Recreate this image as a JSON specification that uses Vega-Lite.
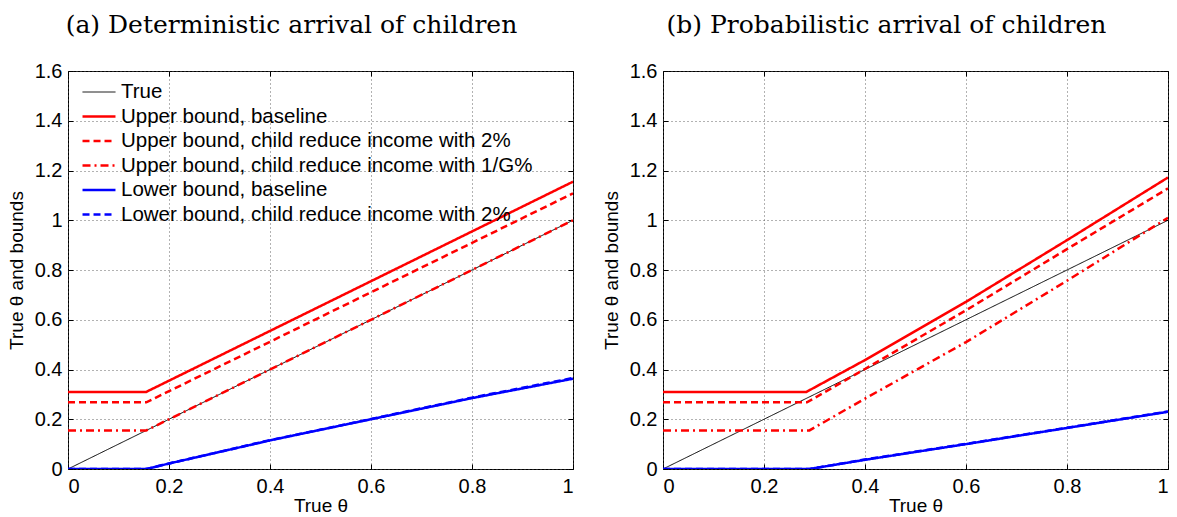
{
  "$schema": "https://vega.github.io/schema/vega-lite/v6.json",
  "padding": {"left": 6, "top": 12, "right": 0, "bottom": 0},
  "background": "white",
  "spacing": 24,
  "config": {
    "view": {"stroke": "black", "strokeWidth": 1},
    "axis": {
      "domain": false,
      "grid": true,
      "gridColor": "#555",
      "gridDash": [1, 3],
      "gridWidth": 1,
      "gridOpacity": 0.9,
      "tickColor": "black",
      "tickSize": -5,
      "labelFont": "Liberation Sans",
      "labelFontSize": 20,
      "labelColor": "black",
      "titleFont": "Liberation Sans",
      "titleFontSize": 19,
      "titleFontWeight": "normal",
      "titleColor": "black"
    },
    "title": {"font": "DejaVu Serif", "fontSize": 25, "fontWeight": "normal", "color": "black", "anchor": "middle", "frame": "bounds", "offset": 23},
    "legend": {"labelFont": "Liberation Sans", "labelFontSize": 20.5, "labelColor": "black", "symbolType": "M-1.57,0H1.57", "symbolSize": 441, "rowPadding": 1.5, "padding": 0, "labelOffset": 10, "labelLimit": 700}
  },
  "datasets": {
    "a": [
      {"series": "True", "x": 0, "y": 0},
      {"series": "True", "x": 1, "y": 1},
      {"series": "Upper bound, baseline", "x": 0, "y": 0.31},
      {"series": "Upper bound, baseline", "x": 0.155, "y": 0.31},
      {"series": "Upper bound, baseline", "x": 1, "y": 1.155},
      {"series": "Upper bound, child reduce income with 2%", "x": 0, "y": 0.268},
      {"series": "Upper bound, child reduce income with 2%", "x": 0.155, "y": 0.268},
      {"series": "Upper bound, child reduce income with 2%", "x": 1, "y": 1.108},
      {"series": "Upper bound, child reduce income with 1/G%", "x": 0, "y": 0.155},
      {"series": "Upper bound, child reduce income with 1/G%", "x": 0.155, "y": 0.155},
      {"series": "Upper bound, child reduce income with 1/G%", "x": 1, "y": 1.0},
      {"series": "Lower bound, baseline", "x": 0, "y": 0},
      {"series": "Lower bound, baseline", "x": 0.155, "y": 0},
      {"series": "Lower bound, baseline", "x": 0.2, "y": 0.022},
      {"series": "Lower bound, baseline", "x": 0.4, "y": 0.115},
      {"series": "Lower bound, baseline", "x": 0.6, "y": 0.2},
      {"series": "Lower bound, baseline", "x": 0.8, "y": 0.285},
      {"series": "Lower bound, baseline", "x": 1, "y": 0.363},
      {"series": "Lower bound, child reduce income with 2%", "x": 0, "y": 0},
      {"series": "Lower bound, child reduce income with 2%", "x": 0.155, "y": 0},
      {"series": "Lower bound, child reduce income with 2%", "x": 0.2, "y": 0.022},
      {"series": "Lower bound, child reduce income with 2%", "x": 0.4, "y": 0.116},
      {"series": "Lower bound, child reduce income with 2%", "x": 0.6, "y": 0.201},
      {"series": "Lower bound, child reduce income with 2%", "x": 0.8, "y": 0.287},
      {"series": "Lower bound, child reduce income with 2%", "x": 1, "y": 0.366}
    ],
    "b": [
      {"series": "True", "x": 0, "y": 0},
      {"series": "True", "x": 1, "y": 1},
      {"series": "Upper bound, baseline", "x": 0, "y": 0.31},
      {"series": "Upper bound, baseline", "x": 0.284, "y": 0.31},
      {"series": "Upper bound, baseline", "x": 0.4, "y": 0.438},
      {"series": "Upper bound, baseline", "x": 0.6, "y": 0.672},
      {"series": "Upper bound, baseline", "x": 0.8, "y": 0.92},
      {"series": "Upper bound, baseline", "x": 1, "y": 1.172},
      {"series": "Upper bound, child reduce income with 2%", "x": 0, "y": 0.268},
      {"series": "Upper bound, child reduce income with 2%", "x": 0.285, "y": 0.268},
      {"series": "Upper bound, child reduce income with 2%", "x": 0.4, "y": 0.402},
      {"series": "Upper bound, child reduce income with 2%", "x": 0.6, "y": 0.638},
      {"series": "Upper bound, child reduce income with 2%", "x": 0.8, "y": 0.884},
      {"series": "Upper bound, child reduce income with 2%", "x": 1, "y": 1.128},
      {"series": "Upper bound, child reduce income with 1/G%", "x": 0, "y": 0.155},
      {"series": "Upper bound, child reduce income with 1/G%", "x": 0.29, "y": 0.155},
      {"series": "Upper bound, child reduce income with 1/G%", "x": 0.4, "y": 0.283},
      {"series": "Upper bound, child reduce income with 1/G%", "x": 0.6, "y": 0.51},
      {"series": "Upper bound, child reduce income with 1/G%", "x": 0.8, "y": 0.757},
      {"series": "Upper bound, child reduce income with 1/G%", "x": 1, "y": 1.01},
      {"series": "Lower bound, baseline", "x": 0, "y": 0},
      {"series": "Lower bound, baseline", "x": 0.29, "y": 0},
      {"series": "Lower bound, baseline", "x": 0.4, "y": 0.037},
      {"series": "Lower bound, baseline", "x": 0.6, "y": 0.1},
      {"series": "Lower bound, baseline", "x": 0.8, "y": 0.165},
      {"series": "Lower bound, baseline", "x": 1, "y": 0.23},
      {"series": "Lower bound, child reduce income with 2%", "x": 0, "y": 0},
      {"series": "Lower bound, child reduce income with 2%", "x": 0.29, "y": 0},
      {"series": "Lower bound, child reduce income with 2%", "x": 0.4, "y": 0.038},
      {"series": "Lower bound, child reduce income with 2%", "x": 0.6, "y": 0.101},
      {"series": "Lower bound, child reduce income with 2%", "x": 0.8, "y": 0.166},
      {"series": "Lower bound, child reduce income with 2%", "x": 1, "y": 0.231}
    ]
  },
  "resolve": {"scale": {"color": "independent", "strokeDash": "independent", "strokeWidth": "independent"}},
  "hconcat": [
    {
      "width": 505,
      "height": 398,
      "title": {"text": "(a) Deterministic arrival of children"},
      "data": {"name": "a"},
      "resolve": {"axis": {"x": "independent", "y": "independent"}},
      "layer": [
        {
          "mark": {"type": "line", "clip": true},
          "encoding": {
            "x": {"field": "x", "type": "quantitative", "scale": {"domain": [0, 1]}, "axis": {"title": "True θ", "values": [0, 0.2, 0.4, 0.6, 0.8, 1], "format": ".1~f", "labelPadding": 12, "titlePadding": 0}},
            "y": {"field": "y", "type": "quantitative", "scale": {"domain": [0, 1.6]}, "axis": {"title": "True θ and bounds", "values": [0, 0.2, 0.4, 0.6, 0.8, 1, 1.2, 1.4, 1.6], "format": ".1~f", "labelPadding": 11, "titlePadding": 8}},
            "color": {"field": "series", "type": "nominal", "scale": {"domain": ["True", "Upper bound, baseline", "Upper bound, child reduce income with 2%", "Upper bound, child reduce income with 1/G%", "Lower bound, baseline", "Lower bound, child reduce income with 2%"], "range": ["black", "#ff0000", "#ff0000", "#ff0000", "#0000ff", "#0000ff"]}, "legend": {"title": null, "orient": "none", "legendX": 19, "legendY": 10}},
            "strokeDash": {"field": "series", "type": "nominal", "scale": {"domain": ["True", "Upper bound, baseline", "Upper bound, child reduce income with 2%", "Upper bound, child reduce income with 1/G%", "Lower bound, baseline", "Lower bound, child reduce income with 2%"], "range": [[1, 0], [1, 0], [7, 4], [8, 4, 2, 4], [1, 0], [7, 4]]}, "legend": {"title": null, "orient": "none", "legendX": 19, "legendY": 10}},
            "strokeWidth": {"field": "series", "type": "nominal", "scale": {"type": "ordinal", "domain": ["True", "Upper bound, baseline", "Upper bound, child reduce income with 2%", "Upper bound, child reduce income with 1/G%", "Lower bound, baseline", "Lower bound, child reduce income with 2%"], "range": [1, 2.5, 2.5, 2.5, 2.5, 2.5]}, "legend": {"title": null, "orient": "none", "legendX": 19, "legendY": 10}}
          }
        },
        {
          "mark": {"type": "point", "opacity": 0},
          "encoding": {
            "x": {"field": "x", "type": "quantitative", "scale": {"domain": [0, 1]}, "axis": {"orient": "top", "title": null, "labels": false, "grid": false, "values": [0, 0.2, 0.4, 0.6, 0.8, 1]}},
            "y": {"field": "y", "type": "quantitative", "scale": {"domain": [0, 1.6]}, "axis": {"orient": "right", "title": null, "labels": false, "grid": false, "values": [0, 0.2, 0.4, 0.6, 0.8, 1, 1.2, 1.4, 1.6]}}
          }
        }
      ]
    },
    {
      "width": 505,
      "height": 398,
      "title": {"text": "(b) Probabilistic arrival of children"},
      "data": {"name": "b"},
      "resolve": {"axis": {"x": "independent", "y": "independent"}},
      "layer": [
        {
          "mark": {"type": "line", "clip": true},
          "encoding": {
            "x": {"field": "x", "type": "quantitative", "scale": {"domain": [0, 1]}, "axis": {"title": "True θ", "values": [0, 0.2, 0.4, 0.6, 0.8, 1], "format": ".1~f", "labelPadding": 12, "titlePadding": 0}},
            "y": {"field": "y", "type": "quantitative", "scale": {"domain": [0, 1.6]}, "axis": {"title": "True θ and bounds", "values": [0, 0.2, 0.4, 0.6, 0.8, 1, 1.2, 1.4, 1.6], "format": ".1~f", "labelPadding": 11, "titlePadding": 8}},
            "color": {"field": "series", "type": "nominal", "scale": {"domain": ["True", "Upper bound, baseline", "Upper bound, child reduce income with 2%", "Upper bound, child reduce income with 1/G%", "Lower bound, baseline", "Lower bound, child reduce income with 2%"], "range": ["black", "#ff0000", "#ff0000", "#ff0000", "#0000ff", "#0000ff"]}, "legend": null},
            "strokeDash": {"field": "series", "type": "nominal", "scale": {"domain": ["True", "Upper bound, baseline", "Upper bound, child reduce income with 2%", "Upper bound, child reduce income with 1/G%", "Lower bound, baseline", "Lower bound, child reduce income with 2%"], "range": [[1, 0], [1, 0], [7, 4], [8, 4, 2, 4], [1, 0], [7, 4]]}, "legend": null},
            "strokeWidth": {"field": "series", "type": "nominal", "scale": {"type": "ordinal", "domain": ["True", "Upper bound, baseline", "Upper bound, child reduce income with 2%", "Upper bound, child reduce income with 1/G%", "Lower bound, baseline", "Lower bound, child reduce income with 2%"], "range": [1, 2.5, 2.5, 2.5, 2.5, 2.5]}, "legend": null}
          }
        },
        {
          "mark": {"type": "point", "opacity": 0},
          "encoding": {
            "x": {"field": "x", "type": "quantitative", "scale": {"domain": [0, 1]}, "axis": {"orient": "top", "title": null, "labels": false, "grid": false, "values": [0, 0.2, 0.4, 0.6, 0.8, 1]}},
            "y": {"field": "y", "type": "quantitative", "scale": {"domain": [0, 1.6]}, "axis": {"orient": "right", "title": null, "labels": false, "grid": false, "values": [0, 0.2, 0.4, 0.6, 0.8, 1, 1.2, 1.4, 1.6]}}
          }
        }
      ]
    }
  ]
}
